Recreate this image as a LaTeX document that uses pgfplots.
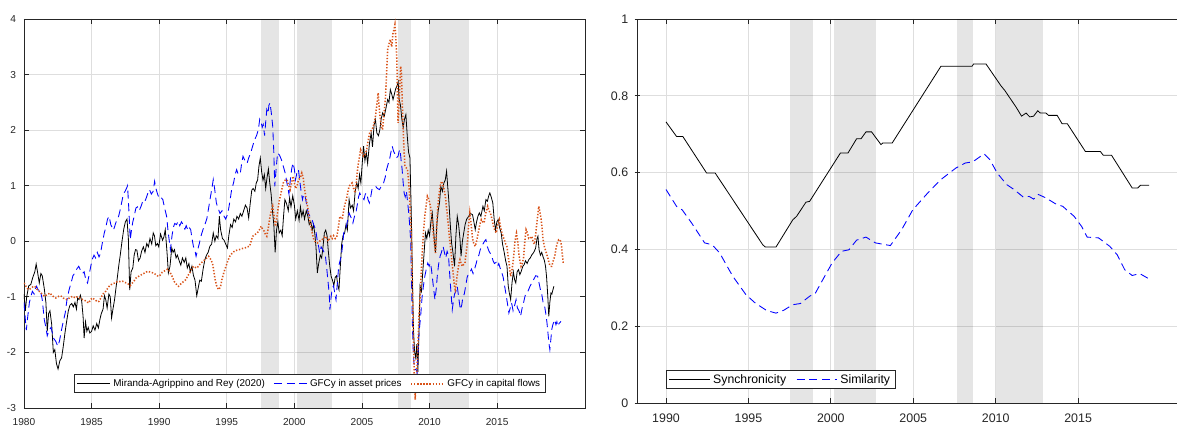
\documentclass[border=0pt]{standalone}
\usepackage{fontspec}
\setmainfont{Liberation Sans}
\usepackage{pgfplots}
\pgfplotsset{compat=1.18}
\definecolor{axgray}{rgb}{0.15,0.15,0.15}
\definecolor{mlorange}{rgb}{0.85,0.325,0.098}
\definecolor{mlblue}{rgb}{0,0,1}
\definecolor{gridc}{rgb}{0.87,0.87,0.87}

\pgfplotsset{
  mlstyle/.style={
    scale only axis,
    anchor=south west,
    axis line style={axgray, line width=0.6pt},
    every tick/.style={axgray, line width=0.6pt},
    major tick length=3.75pt,
    tick align=inside,
    xmajorgrids, ymajorgrids,
    major grid style={gridc, line width=0.6pt},
    tick label style={text=axgray},
    legend columns=-1,
    legend style={draw=axgray, line width=0.6pt, fill=white,
      inner xsep=2pt, inner ysep=1.2pt, anchor=south west},
  },
  crisisband/.style={draw=none, fill=black, fill opacity=0.1, forget plot},
}

\begin{document}
\begin{tikzpicture}
\path (0,0) rectangle (883.5pt,318.75pt);
\begin{axis}[mlstyle,
  at={(18pt,12.75pt)}, width=420.75pt, height=291.75pt,
  xmin=1980, xmax=2021.5, ymin=-3, ymax=4,
  xtick={1980,1985,1990,1995,2000,2005,2010,2015},
  xticklabels={1980,1985,1990,1995,2000,2005,2010,2015},
  ytick={-3,-2,-1,0,1,2,3,4},
  yticklabels={-3,-2,-1,0,1,2,3,4},
  tick label style={font=\fontsize{7.6}{9}\selectfont},
  xticklabel style={yshift=-4pt, overlay},
  yticklabel style={xshift=-2.5pt},
  legend style={at={(0.089,0.0386)}, font=\fontsize{7.4}{9}\selectfont,
    /tikz/every even column/.append style={column sep=4.5pt}},
  legend image code/.code={\draw[#1] (0pt,0pt) -- (24.75pt,0pt);},
]
\addplot[crisisband] coordinates {(1997.5,-3) (1997.5,4) (1998.9,4) (1998.9,-3)};
\addplot[crisisband] coordinates {(2000.2,-3) (2000.2,4) (2002.75,4) (2002.75,-3)};
\addplot[crisisband] coordinates {(2007.65,-3) (2007.65,4) (2008.65,4) (2008.65,-3)};
\addplot[crisisband] coordinates {(2010,-3) (2010,4) (2012.9,4) (2012.9,-3)};
\addlegendimage{draw=black, line width=0.6pt}
\addlegendentry{Miranda-Agrippino and Rey (2020)}
\addlegendimage{draw=mlblue, line width=0.65pt, dash pattern=on 6pt off 3.5pt}
\addlegendentry{GFCy in asset prices}
\addlegendimage{draw=mlorange, line width=1.15pt, dash pattern=on 1pt off 1.3pt}
\addlegendentry{GFCy in capital flows}
\addplot[draw=black, line width=0.6pt, forget plot] table {
1980.00 -0.95
1980.10 -1.25
1980.20 -1.00
1980.35 -0.80
1980.50 -0.78
1980.65 -0.65
1980.80 -0.55
1980.90 -0.41
1981.00 -0.55
1981.13 -0.75
1981.25 -0.58
1981.35 -0.62
1981.50 -0.85
1981.62 -1.10
1981.72 -1.62
1981.82 -1.30
1981.92 -1.25
1982.05 -1.50
1982.17 -2.00
1982.28 -1.95
1982.40 -2.20
1982.52 -2.30
1982.65 -2.15
1982.78 -2.10
1982.90 -1.90
1983.03 -1.65
1983.15 -1.45
1983.28 -1.25
1983.40 -1.15
1983.53 -1.12
1983.65 -1.18
1983.77 -1.10
1983.88 -1.22
1983.97 -1.02
1984.07 -1.05
1984.17 -0.97
1984.27 -1.08
1984.37 -1.35
1984.45 -1.74
1984.55 -1.45
1984.65 -1.62
1984.75 -1.55
1984.87 -1.65
1985.00 -1.62
1985.12 -1.52
1985.25 -1.60
1985.38 -1.48
1985.50 -1.56
1985.62 -1.40
1985.72 -1.30
1985.85 -1.22
1985.95 -0.98
1986.05 -1.05
1986.15 -1.20
1986.28 -0.95
1986.38 -1.00
1986.48 -1.38
1986.58 -1.22
1986.70 -1.05
1986.80 -0.85
1986.92 -0.62
1987.02 -0.42
1987.12 -0.25
1987.25 0.00
1987.38 0.22
1987.50 0.35
1987.62 0.40
1987.72 0.05
1987.82 -0.88
1987.92 -0.55
1988.05 -0.48
1988.15 -0.25
1988.25 -0.15
1988.35 -0.16
1988.47 -0.35
1988.59 -0.30
1988.70 -0.18
1988.83 -0.10
1988.95 -0.20
1989.08 -0.04
1989.20 -0.10
1989.32 0.05
1989.45 -0.05
1989.56 0.15
1989.65 0.10
1989.75 -0.08
1989.87 -0.04
1989.97 -0.10
1990.10 0.13
1990.25 0.02
1990.35 0.08
1990.45 0.21
1990.58 -0.20
1990.68 -0.57
1990.80 -0.45
1990.93 -0.12
1991.03 -0.20
1991.13 -0.15
1991.25 -0.30
1991.35 -0.25
1991.48 -0.35
1991.60 -0.43
1991.72 -0.30
1991.85 -0.38
1991.97 -0.30
1992.08 -0.48
1992.20 -0.40
1992.30 -0.55
1992.42 -0.45
1992.53 -0.61
1992.65 -0.70
1992.78 -0.98
1992.88 -0.85
1993.00 -0.70
1993.12 -0.72
1993.25 -0.50
1993.38 -0.33
1993.50 -0.25
1993.62 -0.20
1993.75 -0.09
1993.88 -0.05
1994.00 0.15
1994.12 0.00
1994.22 0.10
1994.35 0.05
1994.45 0.45
1994.55 0.20
1994.68 0.05
1994.80 0.02
1994.92 -0.05
1995.05 -0.12
1995.15 0.10
1995.28 0.30
1995.40 0.25
1995.52 0.40
1995.65 0.35
1995.75 0.45
1995.88 0.40
1996.00 0.50
1996.12 0.45
1996.25 0.55
1996.38 0.65
1996.50 0.60
1996.62 0.42
1996.72 0.65
1996.85 0.92
1996.95 0.95
1997.08 0.90
1997.18 1.05
1997.28 1.10
1997.38 1.35
1997.48 1.50
1997.58 1.25
1997.68 1.10
1997.78 1.20
1997.88 0.95
1997.98 1.15
1998.08 1.30
1998.18 1.05
1998.28 0.85
1998.38 0.55
1998.48 0.30
1998.58 -0.20
1998.68 0.20
1998.78 0.35
1998.88 0.15
1999.00 0.20
1999.10 0.10
1999.20 0.45
1999.30 0.75
1999.42 0.68
1999.55 0.55
1999.65 0.78
1999.75 0.62
1999.88 0.82
2000.00 0.65
2000.10 0.40
2000.22 0.55
2000.35 0.38
2000.45 0.62
2000.55 0.45
2000.65 0.55
2000.75 0.40
2000.88 0.55
2001.00 0.45
2001.10 0.30
2001.22 0.35
2001.32 0.20
2001.42 0.30
2001.52 0.12
2001.60 -0.10
2001.70 -0.57
2001.80 -0.40
2001.92 -0.25
2002.02 -0.30
2002.12 -0.10
2002.22 0.15
2002.32 0.20
2002.42 0.10
2002.52 -0.20
2002.62 -0.45
2002.72 -0.63
2002.82 -0.70
2002.92 -0.80
2003.02 -0.65
2003.12 -0.62
2003.22 -0.80
2003.30 -0.87
2003.40 -0.45
2003.50 -0.05
2003.60 0.10
2003.72 0.15
2003.82 0.30
2003.92 0.20
2004.05 0.75
2004.15 0.60
2004.28 0.65
2004.38 0.55
2004.50 0.90
2004.62 1.05
2004.72 0.95
2004.82 1.20
2004.92 1.05
2005.02 1.40
2005.12 1.71
2005.22 1.45
2005.32 1.60
2005.42 1.40
2005.55 1.75
2005.68 1.95
2005.78 1.70
2005.90 2.10
2006.00 2.19
2006.10 1.95
2006.22 1.90
2006.32 2.00
2006.42 2.20
2006.53 2.31
2006.65 2.25
2006.78 2.40
2006.90 2.55
2007.00 2.50
2007.10 2.73
2007.20 2.65
2007.30 2.55
2007.40 2.65
2007.50 2.75
2007.60 2.80
2007.68 2.87
2007.75 2.55
2007.85 2.45
2007.95 2.20
2008.05 2.05
2008.15 2.20
2008.25 2.28
2008.35 1.90
2008.45 1.60
2008.55 1.50
2008.62 0.80
2008.68 0.15
2008.75 -0.90
2008.82 -1.65
2008.90 -2.00
2008.98 -2.10
2009.06 -1.85
2009.14 -2.35
2009.22 -1.60
2009.30 -0.81
2009.40 -0.90
2009.50 -0.55
2009.60 -0.20
2009.70 0.15
2009.80 0.05
2009.90 0.20
2010.00 0.10
2010.10 0.35
2010.20 0.51
2010.30 0.20
2010.38 -0.05
2010.44 -0.21
2010.54 0.30
2010.64 0.55
2010.74 0.70
2010.83 0.99
2010.95 0.90
2011.06 1.05
2011.16 1.10
2011.26 1.26
2011.34 1.00
2011.42 0.75
2011.52 0.35
2011.63 -0.03
2011.73 -0.20
2011.85 -0.45
2011.95 0.10
2012.05 0.45
2012.15 0.30
2012.25 0.05
2012.33 -0.27
2012.43 0.00
2012.53 0.15
2012.63 0.30
2012.75 0.40
2012.90 0.45
2013.02 0.50
2013.18 0.48
2013.28 0.35
2013.38 0.21
2013.48 0.35
2013.58 0.45
2013.68 0.51
2013.80 0.45
2013.95 0.63
2014.05 0.55
2014.17 0.75
2014.28 0.72
2014.38 0.82
2014.46 0.87
2014.56 0.80
2014.68 0.69
2014.78 0.40
2014.88 0.20
2014.98 0.35
2015.08 0.39
2015.18 0.25
2015.30 0.15
2015.40 -0.05
2015.53 -0.21
2015.63 -0.35
2015.73 -0.45
2015.82 -0.80
2015.90 -0.93
2016.00 -1.05
2016.10 -0.75
2016.20 -0.55
2016.30 -0.70
2016.38 -0.75
2016.48 -0.55
2016.58 -0.51
2016.68 -0.60
2016.77 -0.55
2016.90 -0.45
2017.00 -0.42
2017.10 -0.35
2017.22 -0.40
2017.34 -0.33
2017.45 -0.30
2017.55 -0.25
2017.65 -0.22
2017.75 -0.18
2017.85 -0.12
2017.95 0.05
2018.02 0.09
2018.10 -0.15
2018.20 -0.25
2018.30 -0.20
2018.40 -0.28
2018.50 -0.35
2018.58 -0.45
2018.66 -0.65
2018.75 -1.00
2018.82 -1.35
2018.90 -1.10
2018.98 -0.93
2019.05 -0.95
2019.12 -0.88
2019.20 -0.81
};
\addplot[draw=mlblue, line width=0.65pt, dash pattern=on 6pt off 3.5pt, forget plot] table {
1980.00 -1.10
1980.08 -1.35
1980.17 -1.60
1980.28 -1.35
1980.40 -1.10
1980.50 -1.00
1980.62 -0.90
1980.75 -0.95
1980.85 -0.85
1980.93 -0.81
1981.05 -0.88
1981.20 -0.87
1981.35 -1.05
1981.50 -1.41
1981.62 -1.55
1981.72 -1.70
1981.85 -1.60
1982.00 -1.55
1982.10 -1.65
1982.20 -1.75
1982.35 -1.80
1982.50 -1.89
1982.62 -1.80
1982.77 -1.60
1982.90 -1.45
1983.05 -1.29
1983.18 -1.05
1983.34 -0.87
1983.48 -0.75
1983.62 -0.62
1983.76 -0.57
1983.90 -0.50
1984.05 -0.45
1984.18 -0.52
1984.33 -0.58
1984.45 -0.55
1984.58 -0.70
1984.70 -0.75
1984.82 -0.60
1984.94 -0.45
1985.04 -0.33
1985.18 -0.25
1985.30 -0.30
1985.42 -0.20
1985.55 -0.28
1985.66 -0.22
1985.78 -0.05
1985.94 0.15
1986.05 0.25
1986.18 0.40
1986.30 0.45
1986.42 0.30
1986.52 0.25
1986.62 0.20
1986.75 0.30
1986.87 0.39
1987.00 0.45
1987.10 0.55
1987.22 0.69
1987.35 0.85
1987.48 0.90
1987.58 0.95
1987.66 1.00
1987.75 0.60
1987.86 0.03
1987.95 0.20
1988.05 0.35
1988.15 0.45
1988.28 0.60
1988.40 0.62
1988.52 0.55
1988.66 0.63
1988.78 0.72
1988.90 0.70
1989.00 0.75
1989.14 0.85
1989.28 0.93
1989.42 0.85
1989.56 0.90
1989.66 1.08
1989.76 0.95
1989.88 0.85
1989.99 0.78
1990.10 0.80
1990.27 0.75
1990.40 0.60
1990.55 0.45
1990.65 0.20
1990.75 0.00
1990.83 -0.15
1990.95 0.10
1991.05 0.25
1991.15 0.32
1991.28 0.30
1991.40 0.36
1991.52 0.28
1991.65 0.35
1991.77 0.30
1991.90 0.22
1992.00 0.28
1992.12 0.20
1992.22 0.25
1992.33 0.21
1992.43 0.05
1992.53 -0.09
1992.63 -0.15
1992.73 -0.27
1992.85 -0.15
1992.96 -0.05
1993.10 0.10
1993.24 0.21
1993.38 0.30
1993.52 0.40
1993.66 0.60
1993.80 0.81
1993.90 0.95
1994.00 1.11
1994.10 0.95
1994.23 0.69
1994.35 0.60
1994.50 0.50
1994.65 0.55
1994.80 0.45
1994.92 0.40
1995.08 0.50
1995.22 0.70
1995.36 0.93
1995.50 1.05
1995.62 1.20
1995.73 1.29
1995.85 1.20
1996.00 1.22
1996.10 1.40
1996.20 1.53
1996.35 1.45
1996.50 1.40
1996.62 1.50
1996.77 1.59
1996.90 1.70
1997.06 1.83
1997.20 1.90
1997.34 2.01
1997.44 2.20
1997.54 2.15
1997.62 2.05
1997.70 2.10
1997.80 1.90
1997.88 2.15
1997.96 2.37
1998.05 2.30
1998.12 2.45
1998.20 2.49
1998.30 2.30
1998.40 2.07
1998.48 1.60
1998.55 0.99
1998.65 1.30
1998.76 1.59
1998.90 1.55
1999.04 1.47
1999.18 1.35
1999.32 1.23
1999.45 1.05
1999.60 0.85
1999.70 1.10
1999.80 1.30
1999.90 1.41
2000.00 1.30
2000.09 1.11
2000.20 1.25
2000.30 1.29
2000.42 1.05
2000.50 0.90
2000.60 0.75
2000.70 0.85
2000.80 0.80
2000.92 0.65
2001.02 0.51
2001.15 0.45
2001.30 0.40
2001.42 0.30
2001.58 0.21
2001.70 0.00
2001.80 -0.10
2001.87 -0.21
2001.98 -0.10
2002.10 -0.15
2002.20 -0.20
2002.30 -0.27
2002.40 -0.50
2002.50 -0.75
2002.58 -0.95
2002.63 -1.23
2002.72 -1.00
2002.80 -0.85
2002.90 -0.80
2003.00 -0.95
2003.08 -1.05
2003.18 -0.75
2003.28 -0.45
2003.38 -0.35
2003.48 -0.25
2003.58 -0.05
2003.65 0.15
2003.75 0.20
2003.85 0.27
2003.95 0.40
2004.05 0.51
2004.15 0.45
2004.25 0.40
2004.33 0.33
2004.45 0.45
2004.55 0.51
2004.65 0.65
2004.75 0.80
2004.84 0.87
2004.95 0.80
2005.05 0.78
2005.15 0.75
2005.25 0.85
2005.35 0.87
2005.45 0.75
2005.55 0.69
2005.65 0.80
2005.74 0.93
2005.85 0.95
2006.00 0.99
2006.15 0.95
2006.30 0.93
2006.45 1.00
2006.60 1.05
2006.72 1.15
2006.82 1.29
2006.95 1.40
2007.04 1.47
2007.14 1.60
2007.24 1.71
2007.34 1.62
2007.44 1.57
2007.55 1.50
2007.67 1.53
2007.75 1.62
2007.82 1.65
2007.90 1.45
2007.97 1.30
2008.05 1.05
2008.12 0.87
2008.20 0.80
2008.29 0.90
2008.38 0.70
2008.46 0.51
2008.53 0.30
2008.60 0.03
2008.66 -0.70
2008.72 -1.40
2008.78 -1.90
2008.85 -2.20
2008.92 -2.31
2009.00 -2.30
2009.08 -2.37
2009.15 -2.00
2009.22 -1.65
2009.30 -1.45
2009.36 -1.29
2009.45 -1.00
2009.55 -0.80
2009.65 -0.63
2009.76 -0.50
2009.87 -0.39
2009.97 -0.45
2010.07 -0.39
2010.14 -0.50
2010.20 -0.63
2010.30 -0.85
2010.40 -1.05
2010.50 -0.85
2010.58 -0.60
2010.68 -0.40
2010.78 -0.27
2010.88 -0.20
2011.00 -0.09
2011.10 -0.20
2011.20 -0.30
2011.30 -0.18
2011.40 -0.25
2011.48 -0.55
2011.57 -0.87
2011.68 -1.23
2011.78 -1.05
2011.85 -0.95
2011.95 -0.90
2012.05 -0.81
2012.15 -1.00
2012.28 -1.23
2012.38 -1.15
2012.47 -1.00
2012.57 -0.95
2012.67 -0.81
2012.78 -0.65
2012.90 -0.57
2013.00 -0.55
2013.10 -0.50
2013.22 -0.58
2013.32 -0.51
2013.45 -0.40
2013.55 -0.30
2013.65 -0.25
2013.75 -0.15
2013.85 -0.10
2013.95 -0.05
2014.07 0.00
2014.17 0.03
2014.28 -0.10
2014.40 -0.18
2014.50 -0.22
2014.60 -0.27
2014.70 -0.35
2014.80 -0.40
2014.92 -0.38
2015.02 -0.45
2015.12 -0.40
2015.22 -0.48
2015.33 -0.55
2015.45 -0.65
2015.55 -0.80
2015.64 -0.93
2015.75 -1.10
2015.87 -1.29
2015.97 -1.20
2016.07 -1.11
2016.18 -1.25
2016.30 -1.15
2016.40 -1.05
2016.50 -1.20
2016.62 -1.25
2016.73 -1.35
2016.85 -1.20
2016.95 -1.11
2017.05 -1.00
2017.14 -0.93
2017.28 -0.90
2017.43 -0.81
2017.56 -0.75
2017.70 -0.69
2017.85 -0.62
2018.00 -0.63
2018.10 -0.75
2018.20 -0.87
2018.30 -0.95
2018.40 -1.10
2018.50 -1.15
2018.60 -1.30
2018.68 -1.45
2018.76 -1.65
2018.84 -1.85
2018.90 -1.95
2018.98 -1.75
2019.04 -1.59
2019.12 -1.50
2019.20 -1.45
2019.26 -1.41
2019.35 -1.50
2019.42 -1.45
2019.49 -1.53
2019.58 -1.48
2019.66 -1.46
2019.72 -1.44
};
\addplot[draw=mlorange, line width=1.15pt, dash pattern=on 1pt off 1.3pt, forget plot] table {
1980.00 -0.75
1980.12 -0.80
1980.25 -0.85
1980.37 -0.87
1980.50 -0.85
1980.65 -0.82
1980.80 -0.81
1980.95 -0.86
1981.07 -0.88
1981.20 -0.92
1981.35 -0.95
1981.50 -0.99
1981.65 -0.97
1981.80 -0.95
1981.92 -0.93
1982.05 -0.97
1982.20 -1.00
1982.35 -1.02
1982.50 -1.00
1982.65 -0.98
1982.77 -0.99
1982.90 -1.02
1983.05 -1.04
1983.20 -1.05
1983.35 -1.02
1983.50 -1.00
1983.62 -0.99
1983.78 -1.02
1983.92 -1.00
1984.05 -1.01
1984.20 -1.03
1984.35 -1.05
1984.47 -1.06
1984.60 -1.08
1984.72 -1.10
1984.80 -1.11
1984.92 -1.05
1985.05 -1.02
1985.18 -1.04
1985.30 -1.06
1985.42 -1.09
1985.55 -1.08
1985.68 -1.02
1985.80 -0.97
1985.90 -0.93
1986.05 -0.90
1986.18 -0.85
1986.30 -0.81
1986.45 -0.78
1986.60 -0.76
1986.73 -0.75
1986.88 -0.73
1987.02 -0.72
1987.16 -0.73
1987.30 -0.72
1987.45 -0.74
1987.58 -0.75
1987.72 -0.77
1987.85 -0.80
1987.92 -0.78
1988.05 -0.74
1988.18 -0.70
1988.29 -0.66
1988.42 -0.64
1988.55 -0.62
1988.70 -0.60
1988.85 -0.58
1989.00 -0.56
1989.14 -0.54
1989.28 -0.55
1989.42 -0.56
1989.56 -0.57
1989.70 -0.59
1989.85 -0.62
1989.99 -0.63
1990.10 -0.60
1990.22 -0.56
1990.35 -0.54
1990.50 -0.52
1990.62 -0.50
1990.70 -0.51
1990.85 -0.58
1991.00 -0.65
1991.10 -0.72
1991.20 -0.75
1991.32 -0.79
1991.43 -0.81
1991.55 -0.78
1991.68 -0.75
1991.82 -0.72
1991.97 -0.69
1992.10 -0.63
1992.25 -0.57
1992.40 -0.50
1992.53 -0.45
1992.67 -0.47
1992.81 -0.48
1992.95 -0.43
1993.10 -0.39
1993.25 -0.36
1993.38 -0.33
1993.52 -0.30
1993.66 -0.27
1993.80 -0.32
1993.95 -0.40
1994.05 -0.55
1994.14 -0.69
1994.25 -0.80
1994.35 -0.85
1994.43 -0.87
1994.55 -0.80
1994.65 -0.68
1994.80 -0.55
1994.94 -0.45
1995.08 -0.35
1995.22 -0.27
1995.38 -0.22
1995.56 -0.18
1995.75 -0.16
1995.93 -0.15
1996.15 -0.13
1996.35 -0.12
1996.52 -0.10
1996.69 -0.09
1996.80 0.00
1996.92 0.09
1997.08 0.12
1997.26 0.15
1997.40 0.20
1997.54 0.27
1997.65 0.22
1997.77 0.18
1997.87 0.12
1997.96 0.09
1998.08 0.25
1998.20 0.45
1998.30 0.55
1998.40 0.63
1998.50 0.45
1998.60 0.27
1998.70 0.40
1998.80 0.60
1998.90 0.75
1999.04 0.90
1999.18 1.05
1999.32 1.10
1999.46 1.11
1999.58 1.00
1999.69 0.93
1999.80 1.05
1999.90 1.17
2000.00 1.05
2000.09 0.95
2000.20 1.00
2000.30 1.10
2000.45 1.15
2000.55 1.23
2000.65 1.15
2000.72 1.00
2000.80 0.87
2000.92 0.70
2001.02 0.57
2001.12 0.40
2001.22 0.27
2001.32 0.15
2001.44 0.03
2001.58 -0.02
2001.72 -0.03
2001.85 0.00
2002.00 0.02
2002.15 0.05
2002.30 0.09
2002.40 0.05
2002.50 0.00
2002.60 0.05
2002.70 0.09
2002.80 0.05
2002.90 0.10
2003.02 0.05
2003.14 0.08
2003.25 0.25
2003.37 0.45
2003.47 0.40
2003.56 0.42
2003.68 0.60
2003.78 0.70
2003.85 0.75
2003.95 0.88
2004.05 0.99
2004.15 1.02
2004.27 1.05
2004.38 0.95
2004.50 0.87
2004.60 1.10
2004.70 1.35
2004.80 1.50
2004.90 1.65
2005.00 1.60
2005.12 1.53
2005.22 1.55
2005.35 1.65
2005.45 1.80
2005.57 1.95
2005.70 2.00
2005.83 2.05
2005.92 2.15
2006.00 2.25
2006.10 2.45
2006.20 2.67
2006.28 2.40
2006.36 2.20
2006.45 2.05
2006.53 2.01
2006.63 2.30
2006.73 2.55
2006.82 3.00
2006.90 3.45
2007.00 3.55
2007.10 3.63
2007.20 3.50
2007.30 3.75
2007.38 3.82
2007.44 3.90
2007.52 3.60
2007.58 3.27
2007.63 2.60
2007.67 2.13
2007.73 2.40
2007.80 2.80
2007.86 3.15
2007.92 3.05
2007.98 2.50
2008.04 2.10
2008.10 1.70
2008.18 1.35
2008.28 1.32
2008.37 1.29
2008.45 1.10
2008.51 0.87
2008.58 0.50
2008.65 0.15
2008.72 -0.70
2008.80 -1.65
2008.87 -2.40
2008.94 -2.85
2009.01 -2.55
2009.08 -2.25
2009.15 -1.80
2009.22 -1.35
2009.30 -1.00
2009.36 -0.69
2009.43 -0.35
2009.50 -0.03
2009.58 0.25
2009.65 0.45
2009.75 0.65
2009.84 0.81
2009.95 0.75
2010.07 0.63
2010.17 0.40
2010.27 0.15
2010.36 -0.05
2010.44 -0.21
2010.52 0.20
2010.58 0.51
2010.68 0.80
2010.78 0.99
2010.85 1.05
2010.92 1.08
2011.00 1.00
2011.06 0.95
2011.14 0.85
2011.20 0.75
2011.30 0.50
2011.40 0.27
2011.48 0.05
2011.57 -0.15
2011.67 -0.40
2011.77 -0.63
2011.84 -0.80
2011.90 -0.87
2011.98 -0.75
2012.08 -0.55
2012.17 -0.40
2012.25 -0.33
2012.34 -0.40
2012.42 -0.45
2012.52 -0.42
2012.62 -0.39
2012.71 -0.20
2012.80 -0.03
2012.90 0.30
2012.98 0.51
2013.08 0.30
2013.18 0.05
2013.28 -0.05
2013.38 -0.09
2013.48 0.00
2013.60 0.15
2013.72 0.30
2013.83 0.39
2013.93 0.35
2014.03 0.33
2014.15 0.50
2014.30 0.63
2014.40 0.55
2014.50 0.51
2014.62 0.40
2014.73 0.27
2014.83 0.20
2014.93 0.15
2015.05 0.30
2015.16 0.39
2015.26 0.25
2015.36 0.15
2015.45 0.08
2015.53 0.03
2015.63 -0.05
2015.73 -0.10
2015.80 -0.25
2015.87 -0.35
2015.95 -0.55
2016.00 -0.63
2016.08 -0.55
2016.20 -0.33
2016.30 -0.05
2016.38 0.10
2016.43 0.15
2016.52 0.00
2016.60 -0.21
2016.68 -0.35
2016.77 -0.45
2016.86 -0.40
2016.95 -0.30
2017.05 0.00
2017.14 0.21
2017.24 0.15
2017.34 0.05
2017.45 0.05
2017.57 0.09
2017.67 -0.02
2017.77 -0.05
2017.86 0.15
2017.94 0.33
2018.02 0.50
2018.08 0.63
2018.15 0.55
2018.25 0.40
2018.32 0.25
2018.40 0.03
2018.50 -0.10
2018.64 -0.21
2018.75 -0.30
2018.84 -0.39
2018.94 -0.45
2019.04 -0.45
2019.15 -0.35
2019.26 -0.27
2019.38 -0.10
2019.49 0.00
2019.56 0.03
2019.63 0.03
2019.70 0.00
2019.77 -0.10
2019.83 -0.25
2019.89 -0.39
};
\end{axis}

\begin{axis}[mlstyle,
  at={(477.75pt,16.5pt)}, width=405pt, height=288pt,
  axis x line=box, axis y line=left, axis line style={-},
  xmin=1988.24, xmax=2021, ymin=0, ymax=1,
  xtick={1990,1995,2000,2005,2010,2015},
  xticklabels={1990,1995,2000,2005,2010,2015},
  ytick={0,0.2,0.4,0.6,0.8,1},
  yticklabels={0,0.2,0.4,0.6,0.8,1},
  tick label style={font=\fontsize{9.3}{11}\selectfont},
  xticklabel style={yshift=-4.6pt},
  yticklabel style={xshift=-1.2pt},
  legend style={at={(0.0537,0.0365)}, font=\fontsize{9.2}{11}\selectfont,
    inner ysep=0.6pt,
    /tikz/every even column/.append style={column sep=5.5pt}},
  legend image code/.code={\draw[#1] (0pt,0pt) -- (30.5pt,0pt);},
]
\addplot[crisisband] coordinates {(1997.5,0) (1997.5,1) (1998.9,1) (1998.9,0)};
\addplot[crisisband] coordinates {(2000.2,0) (2000.2,1) (2002.75,1) (2002.75,0)};
\addplot[crisisband] coordinates {(2007.65,0) (2007.65,1) (2008.65,1) (2008.65,0)};
\addplot[crisisband] coordinates {(2010,0) (2010,1) (2012.9,1) (2012.9,0)};
\addlegendimage{draw=black, line width=0.6pt}
\addlegendentry{Synchronicity}
\addlegendimage{draw=mlblue, line width=0.65pt, dash pattern=on 6pt off 3.5pt}
\addlegendentry{Similarity}
\addplot[draw=black, line width=0.6pt, forget plot] table {
1990.00 0.732
1990.64 0.694
1991.02 0.694
1992.46 0.599
1992.98 0.599
1995.87 0.412
1996.03 0.406
1996.67 0.406
1997.69 0.477
1997.92 0.486
1998.49 0.523
1998.71 0.525
2000.58 0.651
2001.04 0.651
2001.56 0.688
2001.83 0.688
2002.13 0.706
2002.47 0.706
2003.04 0.673
2003.15 0.677
2003.72 0.677
2006.68 0.877
2008.57 0.877
2008.66 0.883
2009.41 0.883
2010.32 0.826
2010.55 0.814
2011.23 0.771
2011.57 0.747
2011.84 0.755
2012.07 0.745
2012.30 0.747
2012.55 0.761
2012.71 0.755
2013.05 0.755
2013.21 0.749
2013.73 0.749
2014.03 0.727
2014.35 0.727
2015.44 0.655
2016.35 0.655
2016.53 0.645
2017.03 0.645
2018.28 0.560
2018.62 0.560
2018.78 0.567
2019.31 0.567
};
\addplot[draw=mlblue, line width=0.65pt, dash pattern=on 6pt off 3.5pt, forget plot] table {
1990.00 0.556
1990.64 0.512
1990.98 0.503
1991.55 0.469
1992.34 0.417
1992.80 0.412
1993.25 0.391
1994.05 0.330
1994.85 0.282
1995.42 0.260
1996.10 0.241
1996.67 0.234
1997.12 0.241
1997.69 0.256
1998.15 0.259
1998.71 0.278
1999.06 0.286
1999.51 0.321
2000.08 0.365
2000.65 0.395
2001.10 0.399
2001.56 0.424
2002.13 0.432
2002.70 0.417
2003.61 0.410
2004.29 0.451
2004.97 0.503
2005.88 0.547
2006.68 0.582
2007.59 0.612
2008.16 0.625
2008.61 0.628
2009.30 0.649
2009.64 0.634
2010.09 0.599
2010.66 0.569
2011.11 0.556
2011.68 0.536
2012.03 0.538
2012.30 0.531
2012.59 0.543
2013.05 0.534
2013.62 0.519
2014.07 0.512
2014.76 0.486
2015.21 0.460
2015.55 0.432
2016.24 0.430
2016.92 0.408
2017.37 0.386
2017.83 0.347
2018.28 0.332
2018.74 0.337
2019.31 0.323
};
\end{axis}
\end{tikzpicture}
\end{document}
